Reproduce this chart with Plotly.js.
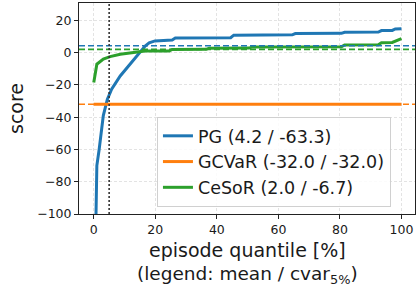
<!DOCTYPE html>
<html>
<head>
<meta charset="utf-8">
<script src="https://cdn.plot.ly/plotly-3.0.1.min.js"></script>
<style>html,body{margin:0;padding:0;background:#fff;}#chart{width:420px;height:290px;}</style>
</head>
<body>
<div id="chart"></div>
<script>
// ---- data ----
const seriesNames = ["PG (4.2 / -63.3)", "GCVaR (-32.0 / -32.0)", "CeSoR (2.0 / -6.7)"];
const seriesMeans = [4.2, -32.0, 2.0];
const cvarAlpha = 5;

const pgX = [0, 1, 1.75, 2.4, 3.1, 4.4, 5.8, 8.6, 11.3, 13.9, 16.7, 18, 19.9, 25.5, 26.5, 44.5, 45.5, 64.5, 65.5, 80.5, 81.5, 92.5, 93.5, 97, 98, 100];
const pgY = [-180, -70, -60, -49, -39, -29, -22.7, -14.5, -8.3, -2, 4, 6, 7.2, 7.8, 9.0, 9.2, 10.8, 11.0, 11.8, 11.9, 12.6, 12.7, 13.6, 13.7, 14.6, 14.8];

const gcvarX = [0, 100];
const gcvarY = [-32.0, -32.0];

const cesorX = [0, 1, 3.1, 5.3, 8.6, 13.4, 16.7, 24.5, 25.5, 36.5, 37.5, 50.5, 51.5, 80.5, 81.5, 92.5, 93.5, 97, 100];
const cesorY = [-18.6, -7.2, -4.1, -2.5, -1, 0, 0.9, 1.0, 1.9, 2.0, 2.7, 2.8, 3.5, 3.6, 4.7, 4.8, 6.1, 6.3, 8.7];

const xTicks = [0, 20, 40, 60, 80, 100];
const yTicks = [-100, -80, -60, -40, -20, 0, 20];

const colors = ["#1f77b4", "#ff7f0e", "#2ca02c"];
const xs = [pgX, gcvarX, cesorX];
const ys = [pgY, gcvarY, cesorY];

const traces = seriesNames.map((n, i) => ({
  type: "scatter", mode: "lines", name: n,
  x: xs[i], y: ys[i],
  legendgroup: "g" + i,
  line: {color: colors[i], width: 3}
}));

const shapes = seriesMeans.map((m, i) => ({
  type: "line", xref: "paper", yref: "y", x0: 0, x1: 1, y0: m, y1: m,
  line: {color: colors[i], width: 1.6, dash: "6px,3px"}, layer: "above"
}));
shapes.push({
  type: "line", xref: "x", yref: "paper", x0: cvarAlpha, x1: cvarAlpha, y0: 0, y1: 1,
  line: {color: "#333", width: 1.6, dash: "2px,2px"}, layer: "above"
});

const font = "DejaVu Sans, sans-serif";
const layout = {
  width: 420, height: 290,
  margin: {l: 79, r: 5, t: 3, b: 76},
  paper_bgcolor: "#fff", plot_bgcolor: "#fff",
  font: {family: font, color: "#1a1a1a", size: 12},
  showlegend: true,
  legend: {
    x: 0.232, y: 0.46, xanchor: "left", yanchor: "top",
    bgcolor: "rgba(255,255,255,0.85)", bordercolor: "#d0d0d0", borderwidth: 1,
    font: {family: font, size: 17.5, color: "#1a1a1a"},
    traceorder: "grouped", tracegroupgap: 0
  },
  xaxis: {
    range: [-4.8, 104.4], tickvals: xTicks, ticktext: xTicks.map(String),
    showgrid: true, gridcolor: "#e3e3e3", griddash: "3px,2px", gridwidth: 1,
    zeroline: false, showline: true, mirror: true, linecolor: "#222", linewidth: 1,
    ticks: "outside", ticklen: 4, tickcolor: "#222",
    tickfont: {family: font, size: 12.5}
  },
  yaxis: {
    range: [-100, 30.7], tickvals: yTicks,
    showgrid: true, gridcolor: "#e3e3e3", griddash: "3px,2px", gridwidth: 1,
    zeroline: false, showline: true, mirror: true, linecolor: "#222", linewidth: 1,
    ticks: "outside", ticklen: 4, tickcolor: "#222",
    tickfont: {family: font, size: 12.5},
    title: {text: "score", font: {family: font, size: 19}, standoff: 8}
  },
  shapes: shapes,
  annotations: [
    {xref: "paper", yref: "paper", x: 0.5, y: 0, yshift: -36, xanchor: "center", yanchor: "middle",
     text: "episode quantile [%]", showarrow: false, font: {family: font, size: 19}},
    {xref: "paper", yref: "paper", x: 0.5, y: 0, yshift: -61, xanchor: "center", yanchor: "middle",
     text: "(legend: mean / cvar<sub>5%</sub>)", showarrow: false, font: {family: font, size: 18.5}}
  ]
};

Plotly.newPlot("chart", traces, layout, {staticPlot: true, displayModeBar: false});
</script>
</body>
</html>
